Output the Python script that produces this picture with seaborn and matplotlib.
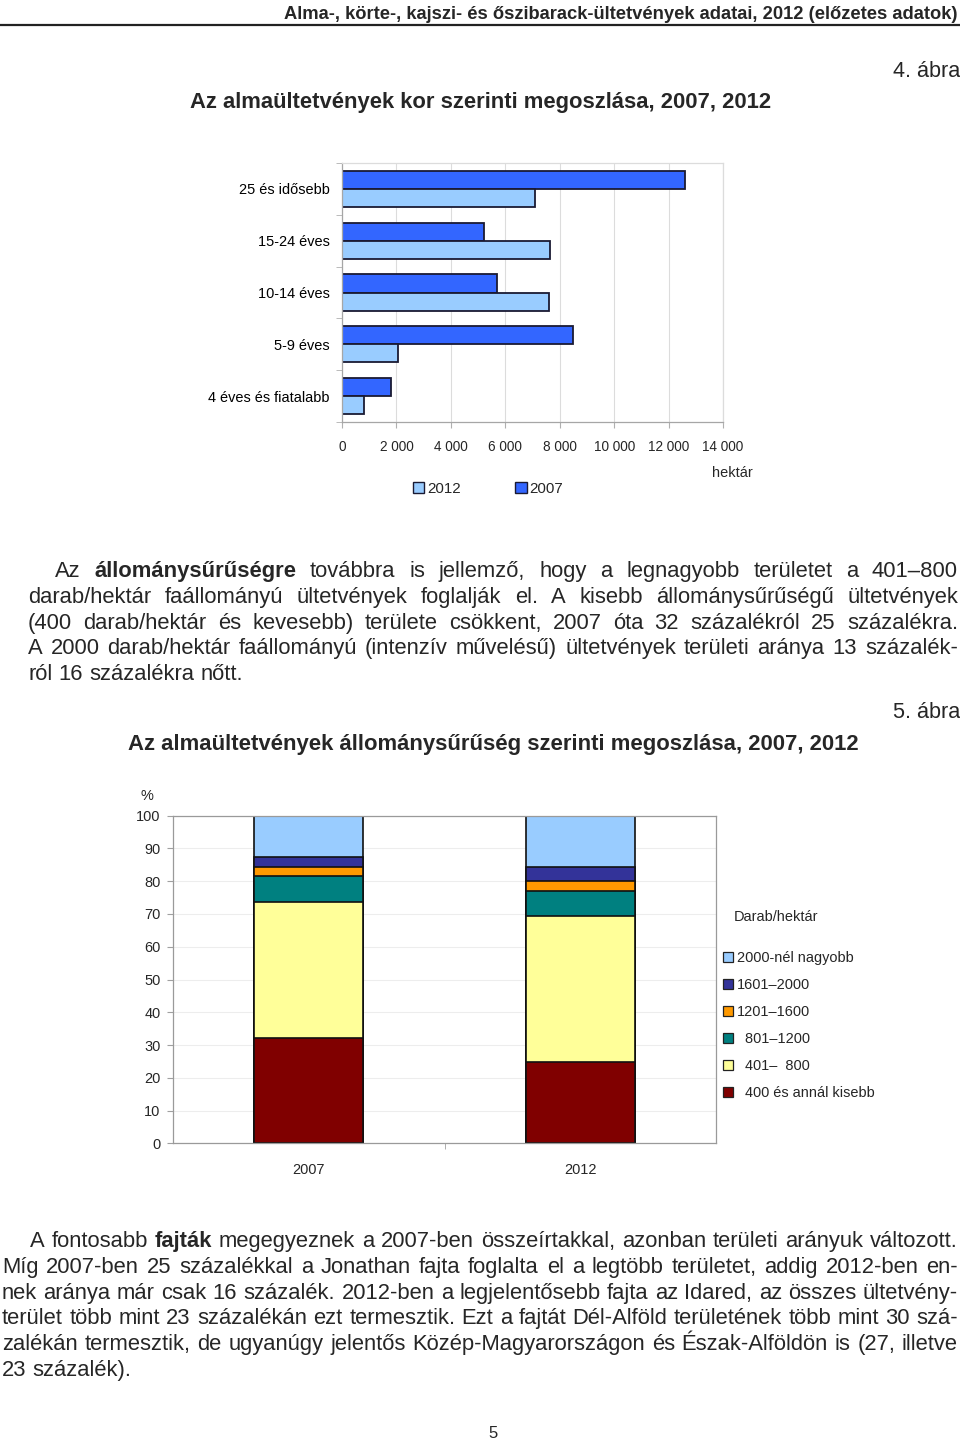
import matplotlib
matplotlib.use("Agg")
import matplotlib.pyplot as plt
from matplotlib import font_manager
from matplotlib.patches import Patch
from matplotlib.ticker import FuncFormatter, FixedLocator
import numpy as np
import pandas as pd
import seaborn as sns

# ---------------- data ----------------
age_groups = ["25 és idősebb", "15-24 éves", "10-14 éves", "5-9 éves", "4 éves és fiatalabb"]
area_2007 = [12600, 5200, 5700, 8500, 1800]
area_2012 = [7100, 7650, 7600, 2050, 820]
years = ["2007", "2012"]
age_ticks = [0, 2000, 4000, 6000, 8000, 10000, 12000, 14000]

density_groups = ["400 és annál kisebb", "401–  800", "801–1200", "1201–1600", "1601–2000", "2000-nél nagyobb"]
legend_labels = ["  400 és annál kisebb", "  401–  800", "  801–1200", "1201–1600", "1601–2000", "2000-nél nagyobb"]
share_2007 = [32.2, 41.5, 8.0, 2.7, 3.0, 12.6]
share_2012 = [24.7, 44.8, 7.5, 3.2, 4.0, 15.8]
density_colors = ["#800000", "#FFFF99", "#008080", "#FF9900", "#333399", "#99CCFF"]
share_ticks = list(range(0, 101, 10))

header = "Alma-, körte-, kajszi- és őszibarack-ültetvények adatai, 2012 (előzetes adatok)"
title1 = "Az almaültetvények kor szerinti megoszlása, 2007, 2012"
title2 = "Az almaültetvények állománysűrűség szerinti megoszlása, 2007, 2012"

para1 = [
    "Az **állománysűrűségre** továbbra is jellemző, hogy a legnagyobb területet a 401–800",
    "darab/hektár faállományú ültetvények foglalják el. A kisebb állománysűrűségű ültetvények",
    "(400 darab/hektár és kevesebb) területe csökkent, 2007 óta 32 százalékról 25 százalékra.",
    "A 2000 darab/hektár faállományú (intenzív művelésű) ültetvények területi aránya 13 százalék-",
    "ról 16 százalékra nőtt.",
]
para2 = [
    "A fontosabb **fajták** megegyeznek a 2007-ben összeírtakkal, azonban területi arányuk változott.",
    "Míg 2007-ben 25 százalékkal a Jonathan fajta foglalta el a legtöbb területet, addig 2012-ben en-",
    "nek aránya már csak 16 százalék. 2012-ben a legjelentősebb fajta az Idared, az összes ültetvény-",
    "terület több mint 23 százalékán ezt termesztik. Ezt a fajtát Dél-Alföld területének több mint 30 szá-",
    "zalékán termesztik, de ugyanúgy jelentős Közép-Magyarországon és Észak-Alföldön is (27, illetve",
    "23 százalék).",
]

# ---------------- style ----------------
sns.set_style("white")
installed = {f.name for f in font_manager.fontManager.ttflist}
BODY = "Liberation Sans" if "Liberation Sans" in installed else "DejaVu Sans"
NARROW = "Liberation Sans Narrow" if "Liberation Sans Narrow" in installed else BODY
cscale = 1.0 if NARROW == "Liberation Sans Narrow" else 0.91
plt.rcParams["font.family"] = [NARROW, "DejaVu Sans"]

W, H = 960, 1442
fig = plt.figure(figsize=(W / 100, H / 100), dpi=100)
fig.patch.set_facecolor("white")
renderer = fig.canvas.get_renderer()


def fy(y):
    return 1 - y / H


def fit_text(x, y, s, width, ha="left", weight="normal", family=NARROW, size0=14):
    t = fig.text(x / W, fy(y), s, ha=ha, va="baseline", fontsize=size0,
                 fontweight=weight, family=family)
    w = t.get_window_extent(renderer).width
    t.set_fontsize(size0 * width / w)
    return t


# header + rule
fit_text(957, 19, header, 677, ha="right", weight="bold")
fig.add_artist(plt.Line2D([0, 1], [fy(24.5), fy(24.5)], color="#222222", lw=1.6))
fit_text(960, 77, "4. ábra", 68, ha="right")
fit_text(190, 108, title1, 583, weight="bold")
fit_text(960, 718, "5. ábra", 68, ha="right")
fit_text(128, 750, title2, 732, weight="bold")

# ---------------- chart 1 ----------------
L, R, T, B = 342, 723, 163, 422
ax1 = fig.add_axes([L / W, fy(B), (R - L) / W, (B - T) / H])
df1 = pd.DataFrame({
    "kor": age_groups * 2,
    "hektar": area_2007 + area_2012,
    "ev": ["2007"] * len(age_groups) + ["2012"] * len(age_groups),
})
sns.barplot(data=df1, y="kor", x="hektar", hue="ev", order=age_groups,
            hue_order=years, palette={"2007": "#3366FF", "2012": "#99CCFF"},
            orient="h", width=0.7, saturation=1, edgecolor="#1a1a33",
            linewidth=1.3, errorbar=None, legend=False, ax=ax1)
ax1.set_xlim(0, 14000)
ax1.set_ylim(len(age_groups) - 0.5, -0.5)
ax1.set_xlabel("")
ax1.set_ylabel("")
ax1.xaxis.set_major_locator(FixedLocator(age_ticks))
ax1.xaxis.set_major_formatter(FuncFormatter(lambda v, p: f"{int(v):,}".replace(",", " ")))
ax1.xaxis.grid(True, color="#dcdcdc", lw=0.8)
ax1.set_axisbelow(True)
ax1.yaxis.set_minor_locator(FixedLocator(np.arange(-0.5, len(age_groups), 1.0)))
ax1.tick_params(axis="y", which="major", length=0, pad=9, labelsize=11.5 * cscale, colors="#000000")
ax1.tick_params(axis="y", which="minor", length=4, color="#b0b0b0", left=True)
ax1.tick_params(axis="x", which="major", length=4, pad=9, color="#b0b0b0",
                labelsize=10.8 * cscale, bottom=True)
for s in ["left", "bottom"]:
    ax1.spines[s].set_color("#a6a6a6")
for s in ["top", "right"]:
    ax1.spines[s].set_color("#dcdcdc")
for sp in ax1.spines.values():
    sp.set_linewidth(0.9)

fig.text(732 / W, fy(473), "hektár", ha="center", va="center", fontsize=11.5 * cscale)
h1 = [Patch(facecolor="#99CCFF", edgecolor="#1a1a33", lw=1.0),
      Patch(facecolor="#3366FF", edgecolor="#1a1a33", lw=1.0)]
fig.legend(h1, ["2012", "2007"], ncol=2, loc="center", bbox_to_anchor=(488 / W, fy(489)),
           frameon=False, fontsize=12 * cscale, handlelength=0.75, handleheight=0.75,
           handletextpad=0.2, columnspacing=3.6, borderpad=0)

# ---------------- chart 2 ----------------
L2, R2, T2, B2 = 173, 716, 815.7, 1143.3
ax2 = fig.add_axes([L2 / W, fy(B2), (R2 - L2) / W, (B2 - T2) / H])
cum07 = np.cumsum(share_2007)
cum12 = np.cumsum(share_2012)
for i in reversed(range(len(density_groups))):
    dfi = pd.DataFrame({"ev": years, "arany": [cum07[i], cum12[i]]})
    sns.barplot(data=dfi, x="ev", y="arany", order=years, color=density_colors[i],
                width=0.4, saturation=1, edgecolor="#111111", linewidth=1.2,
                errorbar=None, ax=ax2)
ax2.set_ylim(0, 100)
ax2.set_xlim(-0.5, 1.5)
ax2.set_xlabel("")
ax2.set_ylabel("")
ax2.yaxis.set_major_locator(FixedLocator(share_ticks))
ax2.yaxis.grid(True, color="#ededed", lw=0.8)
ax2.set_axisbelow(True)
ax2.xaxis.set_minor_locator(FixedLocator([0.5]))
ax2.tick_params(axis="y", length=4, pad=5, color="#a0a0a0", labelsize=11.5 * cscale, left=True)
ax2.tick_params(axis="x", which="major", length=0, pad=14, labelsize=11.5 * cscale)
ax2.tick_params(axis="x", which="minor", length=4, color="#a0a0a0", bottom=True)
for sp in ax2.spines.values():
    sp.set_color("#9a9a9a")
    sp.set_linewidth(0.9)

fig.text(147 / W, fy(796), "%", ha="center", va="center", fontsize=11.5 * cscale)
fig.text(734 / W, fy(917), "Darab/hektár", ha="left", va="center", fontsize=11.5 * cscale)
h2 = [Patch(facecolor=c, edgecolor="#222222", lw=0.9) for c in density_colors][::-1]
fig.legend(h2, legend_labels[::-1], loc="upper left", bbox_to_anchor=(723 / W, fy(951)),
           frameon=False, fontsize=11.5 * cscale, handlelength=0.68, handleheight=0.68,
           handletextpad=0.3, labelspacing=0.90, borderpad=0, borderaxespad=0)

# ---------------- body text ----------------
def words_of(line):
    out = []
    for w in line.split(" "):
        if w.startswith("**") and w.endswith("**"):
            out.append((w[2:-2], "bold"))
        else:
            out.append((w, "normal"))
    return out


def twidth(s, size, weight="normal"):
    t = fig.text(0, 0, s, fontsize=size, fontweight=weight, family=BODY)
    w = t.get_window_extent(renderer).width
    t.remove()
    return w


def natural_width(line, size):
    ws = words_of(line)
    sp = twidth("a a", size) - twidth("aa", size)
    return sum(twidth(w, size, wt) for w, wt in ws) + sp * (len(ws) - 1)


def place_line(line, x0, x1, ybase, size, justify):
    ws = words_of(line)
    texts, widths = [], []
    for w, wt in ws:
        t = fig.text(0, fy(ybase), w, fontsize=size, fontweight=wt, family=BODY,
                     ha="left", va="baseline")
        texts.append(t)
        widths.append(t.get_window_extent(renderer).width)
    sp = twidth("a a", size) - twidth("aa", size)
    gap = sp
    if justify and len(ws) > 1:
        gap = max((x1 - x0 - sum(widths)) / (len(ws) - 1), sp * 0.6)
    x = x0
    for t, w in zip(texts, widths):
        t.set_x(x / W)
        x += w + gap


size = 16.0
ratios = []
for lines, left, indent in [(para1, 28, 55), (para2, 2, 30)]:
    for k, ln in enumerate(lines[:-1]):
        x0 = indent if k == 0 else left
        ratios.append((958 - x0) / natural_width(ln, size))
size = size * min(1.0, min(ratios))

for lines, left, indent, y0 in [(para1, 28, 55, 577), (para2, 2, 30, 1247)]:
    for k, ln in enumerate(lines):
        x0 = indent if k == 0 else left
        place_line(ln, x0, 958, y0 + 25.8 * k, size, justify=(k < len(lines) - 1))

fig.text(493 / W, fy(1433), "5", ha="center", va="center", fontsize=12, family=BODY)

fig.savefig("out.png", dpi=100, facecolor="white")
